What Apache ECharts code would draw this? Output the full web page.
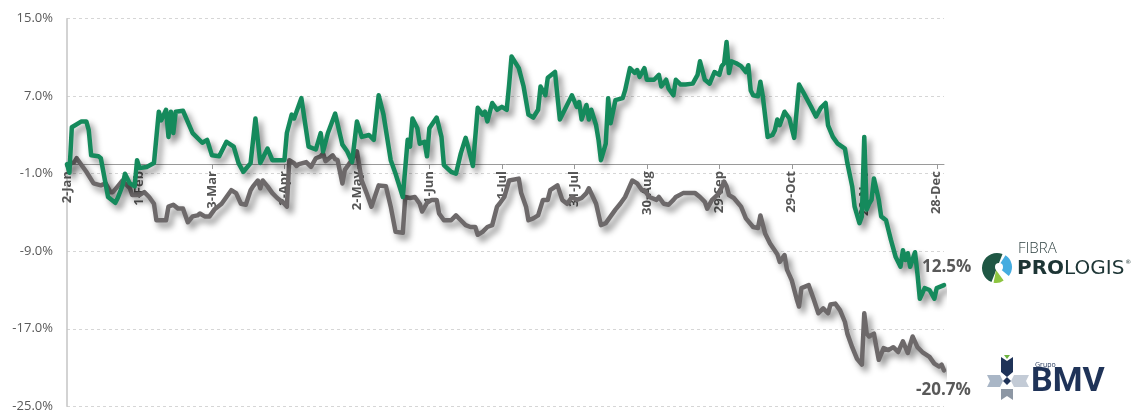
<!DOCTYPE html>
<html>
<head>
<meta charset="utf-8">
<title>FIBRA PROLOGIS vs BMV</title>
<script src="https://cdn.jsdelivr.net/npm/echarts@6/dist/echarts.min.js"></script>
<style>
html, body { margin: 0; padding: 0; background: #fff; }
#main { width: 1137px; height: 411px; }
</style>
</head>
<body>
<div id="main"></div>
<script>
// dias desde el 2-Jan, etiquetas cada 30 dias
var tickDays = [0, 30, 60, 90, 120, 150, 180, 210, 240, 270, 300, 330, 360];
var tickLabels = ['2-Jan', '1-Feb', '3-Mar', '2-Apr', '2-May', '1-Jun', '1-Jul',
                  '31-Jul', '30-Aug', '29-Sep', '29-Oct', '28-Nov', '28-Dec'];

// FIBRA PROLOGIS (%)
var prologisDays = [0,1,2,6,8,9,10,13,14,17,20,21,23,24,26,28,29,30,33,36,38,39,41,42,43,44,45,48,52,56,
  58,60,63,66,69,71,73,76,78,80,83,85,90,91,93,94,97,100,103,105,106,108,111,114,116,118,120,122,125,127,
  129,131,134,136,139,141,142,143,145,146,148,149,150,153,155,156,159,161,163,165,166,168,170,172,173,174,176,178,180,182,
  183,184,187,189,191,193,195,196,198,199,202,203,204,206,209,211,212,213,215,216,217,219,220,221,223,224,225,227,230,231,
  233,235,236,237,239,240,243,245,246,248,249,251,252,254,256,259,261,262,264,266,268,270,271,272,273,274,275,277,279,281,
  282,283,284,286,287,288,290,292,293,294,295,297,299,301,303,305,308,310,312,314,315,317,319,322,323,325,326,328,329,330,
  331,332,333,334,336,337,339,340,341,343,345,346,347,348,349,351,352,353,355,357,359,360,363];
var prologisValues = [0.0,-0.9,3.8,4.4,4.4,3.5,0.9,0.8,0.6,-3.4,-4.0,-3.5,-2.2,-1.0,-2.0,-2.3,0.4,-0.4,-0.3,0.1,5.4,4.5,5.6,2.8,5.4,3.2,5.4,5.5,3.2,2.2,
  2.5,0.9,0.8,2.3,1.8,0.1,-0.8,0.1,4.7,0.1,1.6,0.4,0.4,3.2,5.1,4.7,6.8,1.8,1.5,3.2,1.3,3.2,5.2,2.0,1.3,0.2,4.4,2.8,3.0,2.5,
  7.1,5.1,0.4,-1.0,-3.4,2.5,1.8,4.7,3.7,2.1,2.3,0.8,3.7,4.8,2.8,-0.1,-0.8,-1.0,1.1,2.7,1.8,-0.2,5.8,5.1,5.4,4.4,6.3,5.6,5.9,5.6,
  8.2,11.1,9.9,8.0,5.1,4.8,5.6,8.0,7.1,8.9,9.5,7.0,4.6,5.6,7.1,5.9,6.4,4.6,6.1,4.6,5.6,4.0,2.5,0.4,2.1,6.8,4.2,6.6,6.8,7.6,
  9.9,9.4,9.7,9.0,9.9,8.7,8.7,9.2,8.0,8.7,7.8,7.1,8.7,8.2,8.2,8.3,9.2,10.6,8.7,8.3,9.5,9.2,10.1,10.4,12.6,9.4,10.6,10.4,10.1,9.5,
  10.2,7.6,7.1,7.0,8.5,7.0,2.8,3.0,3.5,4.6,4.0,5.4,4.7,2.7,8.2,7.3,5.9,4.9,5.8,6.3,4.0,2.8,2.1,1.6,0.1,-2.3,-4.4,-6.1,-5.4,2.8,
  -4.7,-4.1,-3.7,-1.5,-3.7,-5.4,-5.8,-6.8,-7.8,-9.6,-10.6,-8.9,-9.9,-9.2,-10.6,-9.1,-11.3,-13.9,-12.8,-13.0,-13.9,-12.8,-12.5];

// Grupo BMV (%)
var bmvDays = [0,3,4,6,8,11,14,16,18,19,21,23,24,26,27,30,32,34,36,37,41,42,44,46,48,50,52,54,55,57,
  59,61,64,66,68,70,72,74,76,77,79,80,81,83,85,87,90,91,92,94,95,96,99,101,103,105,106,107,110,111,
  112,114,115,117,120,122,124,126,129,132,134,136,139,140,142,144,146,147,149,151,153,154,156,159,161,163,165,167,169,170,
  172,174,176,178,179,181,183,187,188,190,191,193,195,197,199,200,203,205,207,209,211,213,215,216,219,221,223,225,227,229,
  231,234,236,238,239,241,244,245,247,249,251,252,255,257,260,262,264,265,267,270,272,273,274,276,279,281,284,286,287,289,
  291,294,295,297,298,300,302,303,304,307,309,311,313,315,316,318,320,322,323,325,327,329,330,331,332,334,335,336,338,340,
  342,344,346,348,350,352,354,357,359,361,362,363];
var bmvValues = [-0.1,0.2,0.6,-0.1,-0.8,-2.0,-2.2,-2.0,-2.9,-2.9,-2.3,-1.7,-2.0,-2.5,-3.2,-3.2,-2.9,-3.4,-4.1,-5.8,-5.8,-4.4,-4.2,-4.6,-4.6,-6.0,-5.4,-5.3,-5.1,-5.4,
  -5.4,-4.7,-4.1,-3.4,-2.7,-3.0,-4.1,-4.2,-2.7,-2.3,-1.7,-2.5,-1.7,-2.3,-3.0,-3.5,-4.1,-4.4,0.4,0.1,-0.2,0.0,0.2,-0.3,0.6,0.8,1.1,0.3,0.9,0.5,
  0.4,-2.0,-0.6,0.1,1.3,-1.7,-3.0,-4.4,-2.2,-2.3,-4.4,-7.0,-7.1,-3.4,-3.5,-3.4,-4.1,-4.9,-4.0,-3.7,-3.7,-5.1,-5.8,-5.8,-5.3,-5.8,-6.3,-6.5,-6.5,-7.3,
  -7.0,-6.5,-6.3,-4.4,-4.1,-3.4,-1.7,-1.5,-3.0,-4.4,-5.8,-5.6,-5.3,-3.7,-3.7,-2.7,-2.2,-3.7,-4.1,-3.4,-3.7,-3.5,-3.0,-2.5,-4.1,-6.3,-6.1,-5.4,-4.7,-4.1,
  -3.4,-1.7,-2.0,-2.7,-2.7,-3.4,-3.7,-3.4,-4.1,-4.2,-3.7,-3.4,-3.0,-3.0,-3.0,-3.4,-3.9,-4.6,-3.7,-3.0,-1.8,-2.3,-3.2,-3.5,-4.4,-5.6,-6.5,-6.6,-5.3,-7.2,
  -8.2,-9.3,-10.1,-9.4,-10.9,-12.0,-13.9,-14.7,-12.8,-12.5,-13.9,-15.4,-14.9,-15.4,-14.5,-14.4,-15.1,-16.3,-17.5,-18.9,-20.1,-20.7,-15.4,-17.5,-17.8,-17.5,-18.9,-20.2,-19.0,-19.2,
  -18.9,-19.4,-18.3,-19.5,-17.8,-18.9,-19.4,-19.9,-20.6,-20.9,-20.7,-21.3];

var endLabels = ['12.5%', '-20.7%'];

function zip(days, vals) {
    var out = [];
    for (var i = 0; i < days.length; i++) out.push([days[i], vals[i]]);
    return out;
}

var lineShadow = {
    shadowColor: 'rgba(0,0,0,0.45)',
    shadowBlur: 6,
    shadowOffsetX: 4,
    shadowOffsetY: 5
};

// el eje x va sobre la linea de 0%
var GRID_TOP = 18.7, GRID_BOTTOM = 4.7, PLOT_H = 411 - GRID_TOP - GRID_BOTTOM;
var zeroOffset = -PLOT_H * (0 - (-25)) / 40;

var endLabelStyle = { color: '#595959', fontFamily: 'Open Sans', fontWeight: 'bold', fontSize: 17 };

var MyCharts = {
    getChart: function () {
        var myChart = echarts.init(document.getElementById('main'));
        var option = {
            animation: false,
            backgroundColor: '#fff',
            grid: { left: 67, right: 193, top: GRID_TOP, bottom: GRID_BOTTOM, containLabel: false, outerBoundsMode: 'none' },
            xAxis: {
                type: 'value',
                min: 0,
                max: 363,
                interval: 30,
                offset: zeroOffset,
                axisLine: { onZero: false, lineStyle: { color: '#9a9a9a', width: 1 } },
                axisTick: { show: true, length: 5, customValues: tickDays, lineStyle: { color: '#9a9a9a' } },
                axisLabel: {
                    customValues: tickDays,
                    rotate: 90,
                    margin: 7,
                    hideOverlap: false,
                    color: '#555',
                    fontFamily: 'Open Sans',
                    fontWeight: 'bold',
                    fontSize: 13,
                    formatter: function (v) {
                        var i = tickDays.indexOf(Math.round(v));
                        return i >= 0 ? tickLabels[i] : '';
                    }
                },
                splitLine: { show: false }
            },
            yAxis: {
                type: 'value',
                min: -25,
                max: 15,
                interval: 8,
                axisLine: { show: true, lineStyle: { color: '#c4c4c4', width: 1.5 } },
                axisTick: { show: false },
                axisLabel: {
                    margin: 14,
                    color: '#595959',
                    fontFamily: 'Open Sans',
                    fontSize: 13,
                    formatter: function (v) { return v.toFixed(1) + '%'; }
                },
                splitLine: { lineStyle: { color: '#d6d6d6', type: [3, 3] } }
            },
            series: [{
                name: 'Grupo BMV',
                type: 'line',
                data: zip(bmvDays, bmvValues),
                symbol: 'none',
                lineStyle: Object.assign({ color: '#6d696a', width: 4.5, cap: 'round', join: 'round' }, lineShadow),
                endLabel: Object.assign({ show: true, formatter: endLabels[1], offset: [-36, 20] }, endLabelStyle)
            }, {
                name: 'FIBRA PROLOGIS',
                type: 'line',
                data: zip(prologisDays, prologisValues),
                symbol: 'none',
                lineStyle: Object.assign({ color: '#158a5c', width: 4.5, cap: 'round', join: 'round' }, lineShadow),
                endLabel: Object.assign({ show: true, formatter: endLabels[0], offset: [-30, -18] }, endLabelStyle)
            }],
            graphic: [
                // logo FIBRA PROLOGIS
                { type: 'sector', shape: { cx: 997, cy: 268, r0: 0, r: 15, startAngle: Math.PI * 0.62, endAngle: Math.PI * 1.62 }, style: { fill: '#1f5744' } },
                { type: 'sector', shape: { cx: 998, cy: 267, r0: 0, r: 14, startAngle: Math.PI * 1.68, endAngle: Math.PI * 2.22 }, style: { fill: '#45ace0' } },
                { type: 'sector', shape: { cx: 996, cy: 270, r0: 0, r: 13, startAngle: Math.PI * 0.3, endAngle: Math.PI * 0.56 }, style: { fill: '#8dc540' } },
                { type: 'circle', shape: { cx: 999, cy: 267, r: 4 }, style: { fill: '#fff' } },
                { type: 'text', style: { x: 1018, y: 249, text: 'FIBRA', font: '300 15px "Open Sans"', fill: '#2f4141', textVerticalAlign: 'middle', verticalAlign: 'middle' } },
                {
                    type: 'text',
                    style: {
                        x: 1017, y: 269, text: '{b|PRO}{r|LOGIS}{s|®}', textVerticalAlign: 'middle', verticalAlign: 'middle',
                        rich: {
                            b: { fontFamily: 'DejaVu Sans', fontWeight: 'bold', fontSize: 20, fill: '#1d3535', color: '#1d3535' },
                            r: { fontFamily: 'DejaVu Sans', fontSize: 20, fill: '#1d3535', color: '#1d3535' },
                            s: { fontFamily: 'DejaVu Sans', fontSize: 6, fill: '#1d3535', color: '#1d3535', verticalAlign: 'top', padding: [0, 0, 10, 1] }
                        }
                    }
                },
                // logo Grupo BMV
                { type: 'polygon', shape: { points: [[1004, 355], [1010, 355], [1007, 359]] }, style: { fill: '#6cb33f' } },
                { type: 'polygon', shape: { points: [[1001, 357], [1007, 361], [1013, 357], [1013, 372], [1007, 377], [1001, 372]] }, style: { fill: '#1f3358' } },
                { type: 'polygon', shape: { points: [[987, 375], [1000, 375], [1003, 381], [1000, 387], [987, 387], [990, 381]] }, style: { fill: '#a9b6c6' } },
                { type: 'polygon', shape: { points: [[1014, 375], [1029, 375], [1026, 381], [1029, 387], [1014, 387], [1011, 381]] }, style: { fill: '#c3cbd6' } },
                { type: 'polygon', shape: { points: [[1007, 377], [1011, 381], [1007, 385], [1003, 381]] }, style: { fill: '#1f3358' } },
                { type: 'polygon', shape: { points: [[1001, 389], [1013, 389], [1013, 400], [1007, 396], [1001, 400]] }, style: { fill: '#8d97a4' } },
                { type: 'text', style: { x: 1035, y: 365, text: 'Grupo', font: '7px "Open Sans"', fill: '#1f3358', textVerticalAlign: 'middle', verticalAlign: 'middle' } },
                { type: 'text', style: { x: 1031, y: 382, text: 'BMV', font: 'bold 34px "Liberation Sans Narrow", Roboto', fill: '#1f3358', textVerticalAlign: 'middle', verticalAlign: 'middle' } }
            ]
        };
        myChart.setOption(option);
    }
};

MyCharts.getChart();
</script>
</body>
</html>
